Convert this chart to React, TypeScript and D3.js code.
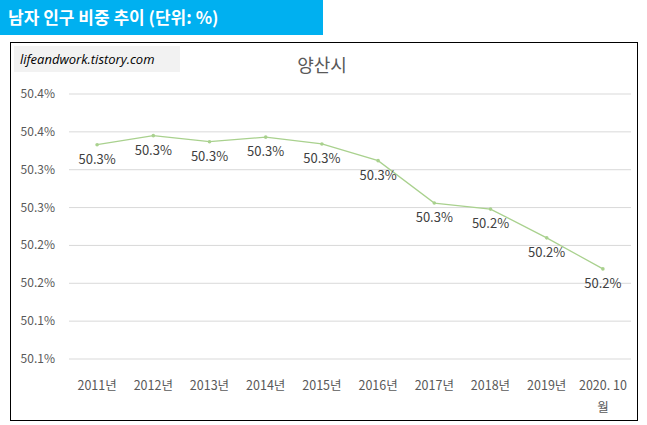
import React from 'react';
import * as d3 from 'd3';

const categories = ['2011년', '2012년', '2013년', '2014년', '2015년', '2016년', '2017년', '2018년', '2019년', '2020. 10월'];
const values = [50.333, 50.345, 50.337, 50.343, 50.334, 50.312, 50.256, 50.248, 50.21, 50.169];
const yTicks = [50.05, 50.1, 50.15, 50.2, 50.25, 50.3, 50.35, 50.4];

const W = 647;
const H = 425;
const font = "'Malgun Gothic', 'Noto Sans CJK KR', sans-serif";

const App: React.FC = () => {
  const x = d3.scaleBand<string>().domain(categories).range([69, 631]);
  const y = d3.scaleLinear().domain([50.05, 50.4]).range([359, 94]);
  const line = d3.line<number>()
    .x((_, i) => x(categories[i])! + x.bandwidth() / 2)
    .y(d => y(d));

  return (
    <svg width={W} height={H} style={{ position: 'absolute', left: 0, top: 0, background: '#fff' }}>
      <rect x={0} y={0} width={323} height={35} fill="#00b0f0" />
      <text x={8} y={24} fill="#fff" fontSize={17} fontWeight="bold" fontFamily={font}>남자 인구 비중 추이 (단위: %)</text>
      <rect x={10.5} y={42.5} width={627} height={378} fill="none" stroke="#000" strokeWidth={1} />
      <rect x={14} y={46} width={166} height={26} fill="#f2f2f2" />
      <text x={20} y={64} fontSize={13} fontStyle="italic" fill="#000" fontFamily="'Open Sans', sans-serif">lifeandwork.tistory.com</text>
      <text x={322} y={72} textAnchor="middle" fontSize={18} fill="#595959" fontFamily={font}>양산시</text>
      {yTicks.map(t => (
        <g key={t}>
          <line x1={69} x2={631} y1={y(t)} y2={y(t)} stroke="#d9d9d9" />
          <text x={55} y={y(t) + 4} textAnchor="end" fontSize={12} fill="#595959" fontFamily={font}>{(Math.round(t * 10) / 10).toFixed(1)}%</text>
        </g>
      ))}
      <path d={line(values) ?? ''} fill="none" stroke="#a9d18e" strokeWidth={1.25} />
      {values.map((v, i) => {
        const cx = x(categories[i])! + x.bandwidth() / 2;
        return (
          <g key={i}>
            <circle cx={cx} cy={y(v)} r={1.8} fill="#a9d18e" />
            <text x={cx} y={y(v) + 19} textAnchor="middle" fontSize={13} fill="#404040" fontFamily={font}>{v.toFixed(1)}%</text>
          </g>
        );
      })}
      {categories.map((c, i) => {
        const cx = x(c)! + x.bandwidth() / 2;
        const parts = c === '2020. 10월' ? ['2020. 10', '월'] : [c];
        return (
          <text key={c} x={cx} y={390} textAnchor="middle" fontSize={12.5} fill="#595959" fontFamily={font}>
            {parts.map((p, j) => <tspan key={j} x={cx} dy={j === 0 ? 0 : 22}>{p}</tspan>)}
          </text>
        );
      })}
    </svg>
  );
};

export default App;
